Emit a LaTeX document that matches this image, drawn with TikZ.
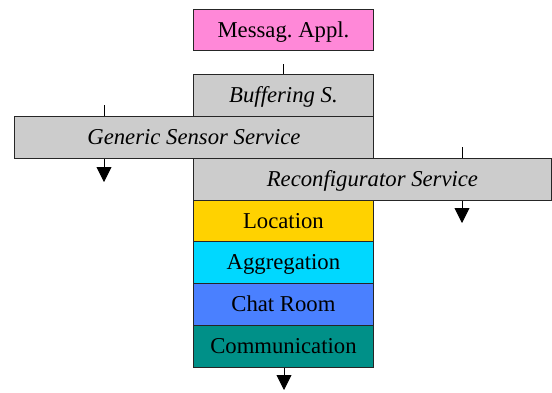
\documentclass[tikz,border=0pt]{standalone}
\usepackage{fontspec}
\setmainfont{Liberation Serif}
\usetikzlibrary{arrows.meta}
\frenchspacing
\definecolor{cpink}{HTML}{FF88D8}
\definecolor{cgray}{HTML}{CCCCCC}
\definecolor{cgold}{HTML}{FFD200}
\definecolor{ccyan}{HTML}{00D8FF}
\definecolor{cblue}{HTML}{4A80FF}
\definecolor{cteal}{HTML}{009088}
\tikzset{
  layer/.style={draw=black!85, line width=0.9pt, rectangle, anchor=north west, inner sep=0pt,
    text height=15pt, text depth=0pt,
    font=\fontsize{22.7}{27}\selectfont},
  tick/.style={line width=0.9pt, black},
  arr/.style={line width=0.9pt, black, -{Triangle[width=15pt,length=15pt]}},
}
\begin{document}
\begin{tikzpicture}[x=1pt,y=-1pt]
\useasboundingbox (0,0) rectangle (552,392);
\node[layer, fill=cpink, minimum width=180pt, minimum height=41pt] (msg) at (193,9) {Messag.\ Appl.};
\node[layer, fill=cgray, minimum width=180pt, minimum height=42pt] (buf) at (193,74) {\itshape Buffering S.};
\node[layer, fill=cgray, minimum width=359pt, minimum height=42pt] (gen) at (14,116) {\itshape Generic Sensor Service};
\node[layer, fill=cgray, minimum width=358pt, minimum height=42pt] (rec) at (193,158) {\itshape Reconfigurator Service};
\node[layer, fill=cgold, minimum width=180pt, minimum height=41pt] (loc) at (193,200) {Location};
\node[layer, fill=ccyan, minimum width=180pt, minimum height=42pt] (agg) at (193,241) {Aggregation};
\node[layer, fill=cblue, minimum width=180pt, minimum height=42pt] (chat) at (193,283) {Chat Room};
\node[layer, fill=cteal, minimum width=180pt, minimum height=42pt] (com) at (193,325) {Communication};
% ticks
\coordinate (bufin) at (283,64);
\coordinate (genin) at (104,105);
\coordinate (recin) at (462,147);
\coordinate (genout) at (104,182);
\coordinate (recout) at (462,223);
\coordinate (comout) at (284,390);
\draw[tick] (bufin) -- (bufin |- buf.north);
\draw[tick] (genin) -- (genin |- gen.north);
\draw[tick] (recin) -- (recin |- rec.north);
\draw[arr] (genout |- gen.south) -- (genout);
\draw[arr] (recout |- rec.south) -- (recout);
\draw[arr] (comout |- com.south) -- (comout);
\end{tikzpicture}
\end{document}
